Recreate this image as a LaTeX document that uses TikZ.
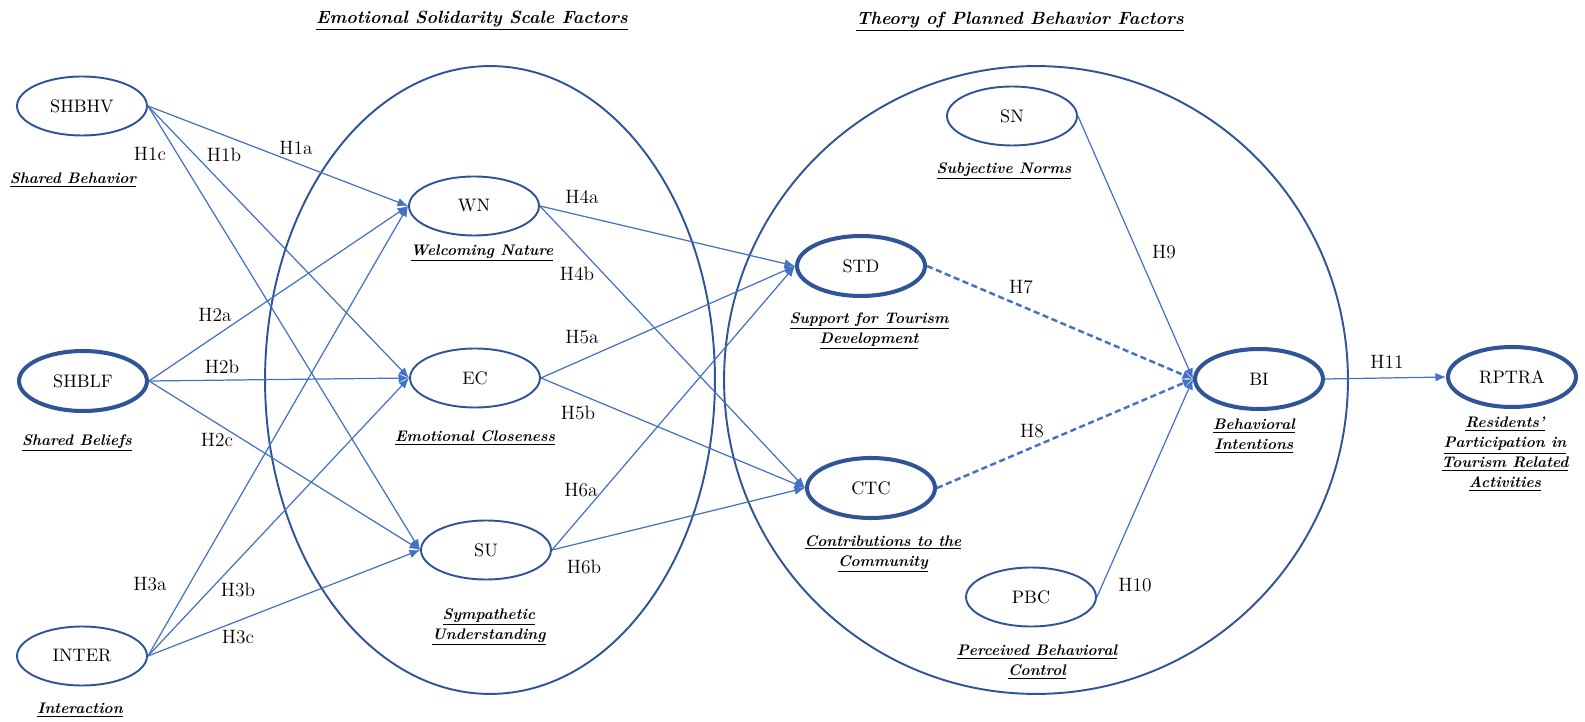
\documentclass[tikz,border=0pt]{standalone}
\usetikzlibrary{shapes.geometric,arrows.meta}
\definecolor{ringblue}{HTML}{2F5597}
\definecolor{pathblue}{HTML}{4472C4}
\newcommand{\uline}[1]{\underline{#1}}
\tikzset{
  factor/.style={ellipse, draw=ringblue, line width=1.1pt, minimum width=2.6cm,
    minimum height=1.18cm, inner sep=0pt, font=\fontsize{10.3}{12}\selectfont},
  keyfactor/.style={factor, line width=2.3pt, minimum width=2.56cm, minimum height=1.2cm},
  hyp/.style={draw=pathblue, line width=0.7pt, -{Latex[length=6pt,width=5pt]}},
  hypdash/.style={hyp, line width=1.4pt, dash pattern=on 3.5pt off 2pt},
  hlab/.style={font=\fontsize{11}{13}\selectfont, inner sep=0pt},
  desc/.style={font=\fontsize{8.7}{11.4}\selectfont\bfseries\itshape, align=center, inner sep=0pt},
  group/.style={draw=ringblue, line width=1.1pt},
  heading/.style={font=\fontsize{10.1}{14}\selectfont\bfseries\itshape, inner sep=0pt}
}
\begin{document}
\begin{tikzpicture}[x=0.02cm, y=-0.02cm]
    \useasboundingbox (0,0) rectangle (1585,722);

    % Group frames
    \draw[group] (490,380) ellipse [x radius=4.5cm, y radius=6.28cm];
    \draw[group] (1036,380) ellipse [x radius=6.24cm, y radius=6.28cm];
    \node[heading] (esstitle) at (472,21) {\uline{Emotional Solidarity Scale Factors}};
    \node[heading] (tpbtitle) at (1020,22) {\uline{Theory of Planned Behavior Factors}};

    % Antecedents
    \node[factor] (SHBHV) at (82,106) {SHBHV};
    \node[keyfactor] (SHBLF) at (83,381) {SHBLF};
    \node[factor] (INTER) at (82,656) {INTER};
    \node[desc] (dSHBHV) at (73,180) {\uline{Shared Behavior}};
    \node[desc] (dSHBLF) at (77,443) {\uline{Shared Beliefs}};
    \node[desc] (dINTER) at (80,710) {\uline{Interaction}};

    % Emotional solidarity
    \node[factor] (WN) at (474,206) {WN};
    \node[factor] (EC) at (475,378) {EC};
    \node[factor] (SU) at (486,550) {SU};
    \node[desc] (dWN) at (482,253) {\uline{Welcoming Nature}};
    \node[desc] (dEC) at (475,438) {\uline{Emotional Closeness}};
    \node[desc] (dSU) at (489,627) {\uline{Sympathetic}\\\uline{Understanding}};

    % Planned behavior
    \node[keyfactor] (STD) at (861,266) {STD};
    \node[keyfactor] (CTC) at (871,488) {CTC};
    \node[factor] (SN) at (1012,116) {SN};
    \node[keyfactor] (BI) at (1259,379) {BI};
    \node[factor] (PBC) at (1031,597) {PBC};
    \node[keyfactor] (RPTRA) at (1512,377) {RPTRA};
    \node[desc] (dSTD) at (869,331) {\uline{Support for Tourism}\\\uline{Development}};
    \node[desc] (dCTC) at (883,554) {\uline{Contributions to the}\\\uline{Community}};
    \node[desc] (dSN) at (1004,171) {\uline{Subjective Norms}};
    \node[desc] (dBI) at (1254,436) {\uline{Behavioral}\\\uline{Intentions}};
    \node[desc] (dPBC) at (1037,662) {\uline{Perceived Behavioral}\\\uline{Control}};
    \node[desc] (dRPTRA) at (1505,454) {\uline{Residents'}\\\uline{Participation in}\\\uline{Tourism Related}\\\uline{Activities}};

    % H1 - H3
    \draw[hyp] (SHBHV.east) -- (WN.west);
    \draw[hyp] (SHBHV.east) -- (EC.west);
    \draw[hyp] (SHBHV.east) -- (SU.west);
    \draw[hyp] (SHBLF.east) -- (WN.west);
    \draw[hyp] (SHBLF.east) -- (EC.west);
    \draw[hyp] (SHBLF.east) -- (SU.west);
    \draw[hyp] (INTER.east) -- (WN.west);
    \draw[hyp] (INTER.east) -- (EC.west);
    \draw[hyp] (INTER.east) -- (SU.west);
    \node[hlab] (h1a) at (296,148) {H1a};
    \node[hlab] (h1b) at (224,155) {H1b};
    \node[hlab] (h1c) at (150,154) {H1c};
    \node[hlab] (h2a) at (215,315) {H2a};
    \node[hlab] (h2b) at (222,367) {H2b};
    \node[hlab] (h2c) at (217,440) {H2c};
    \node[hlab] (h3a) at (150,584) {H3a};
    \node[hlab] (h3b) at (238,590) {H3b};
    \node[hlab] (h3c) at (238,637) {H3c};

    % H4 - H6
    \draw[hyp] (WN.east) -- (STD.west);
    \draw[hyp] (WN.east) -- (CTC.west);
    \draw[hyp] (EC.east) -- (STD.west);
    \draw[hyp] (EC.east) -- (CTC.west);
    \draw[hyp] (SU.east) -- (STD.west);
    \draw[hyp] (SU.east) -- (CTC.west);
    \node[hlab] (h4a) at (582,197) {H4a};
    \node[hlab] (h4b) at (577,274) {H4b};
    \node[hlab] (h5a) at (582,337) {H5a};
    \node[hlab] (h5b) at (578,413) {H5b};
    \node[hlab] (h6a) at (581,490) {H6a};
    \node[hlab] (h6b) at (584,567) {H6b};

    % H7 - H11
    \draw[hypdash] (STD.east) -- (BI.west);
    \draw[hypdash] (CTC.east) -- (BI.west);
    \draw[hyp] (SN.east) -- (BI.west);
    \draw[hyp] (PBC.east) -- (BI.west);
    \draw[hyp] (BI.east) -- (RPTRA.west);
    \node[hlab] (h7) at (1021,287) {H7};
    \node[hlab] (h8) at (1032,431) {H8};
    \node[hlab] (h9) at (1164,252) {H9};
    \node[hlab] (h10) at (1135,585) {H10};
    \node[hlab] (h11) at (1387,362) {H11};
\end{tikzpicture}
\end{document}
